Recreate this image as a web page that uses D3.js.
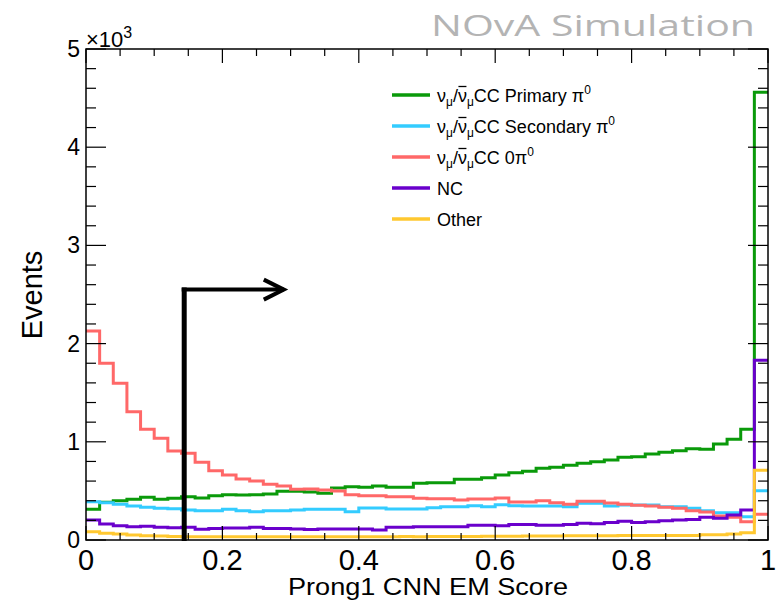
<!DOCTYPE html>
<html>
<head>
<meta charset="utf-8">
<script src="https://cdn.jsdelivr.net/npm/d3@7"></script>
<style>
  body { margin: 0; background: #fff; }
  text { font-family: "Liberation Sans", Arial, sans-serif; }
</style>
</head>
<body>
<div id="chart"></div>
<script>
// 50 bins of width 0.02 on [0, 1]
const binEdges = d3.range(0, 50).map(i => i * 0.02);

const primary = [312, 384, 400, 414, 435, 414, 424, 441, 428, 451, 461, 458, 461, 468, 496, 496, 489, 475, 530, 543,
  537, 550, 537, 537, 577, 584, 584, 618, 618, 635, 662, 686, 700, 730, 740, 760, 781, 798, 815, 842,
  849, 876, 893, 910, 930, 923, 978, 1025, 1127, 4560];
const secondary = [390, 380, 363, 346, 333, 323, 319, 305, 299, 299, 312, 299, 288, 299, 299, 305, 312, 312, 312, 288,
  326, 326, 316, 316, 316, 329, 339, 339, 349, 339, 360, 349, 346, 346, 346, 339, 373, 373, 346, 356,
  356, 356, 339, 339, 323, 299, 278, 278, 238, 502];
const zeroPi0 = [2128, 1799, 1595, 1307, 1127, 1035, 906, 883, 791, 706, 662, 621, 601, 567, 550, 516, 520, 510, 500, 462,
  450, 450, 440, 440, 425, 421, 421, 407, 418, 418, 428, 387, 387, 400, 380, 363, 394, 394, 377, 363,
  353, 346, 333, 323, 299, 285, 244, 231, 187, 261];
const nc = [204, 163, 146, 136, 140, 129, 126, 129, 109, 116, 122, 122, 129, 116, 116, 112, 108, 112, 112, 112,
  112, 102, 129, 129, 136, 136, 136, 136, 149, 149, 146, 159, 159, 149, 149, 159, 170, 166, 177, 190,
  177, 187, 197, 204, 210, 231, 221, 255, 305, 1830];
const other = [85, 68, 61, 51, 44, 41, 36, 34, 33, 34, 33, 32, 33, 32, 32, 33, 32, 33, 34, 33,
  34, 33, 34, 35, 34, 35, 36, 35, 36, 37, 37, 38, 41, 41, 41, 44, 44, 44, 44, 47,
  47, 47, 47, 47, 47, 54, 54, 61, 75, 710];

const seriesColors = ["#0a9a0a", "#33ccff", "#ff6868", "#6a00cc", "#ffc830"];
const seriesData = [primary, secondary, zeroPi0, nc, other];

const xTicks = [0, 0.2, 0.4, 0.6, 0.8, 1];
const yTicks = [0, 1000, 2000, 3000, 4000, 5000];

// cut arrow: position and extent
const cutX = 0.144, cutTop = 2550, cutArrowEnd = 0.29;

const width = 777, height = 600;
const margin = { left: 86, right: 9, top: 49, bottom: 60 };

const svg = d3.select("#chart").append("svg")
  .attr("width", width)
  .attr("height", height);

const x = d3.scaleLinear().domain([0, 1]).range([margin.left, width - margin.right]);
const y = d3.scaleLinear().domain([0, 5000]).range([height - margin.bottom, margin.top]);

const x0 = x(0), x1 = x(1), y0 = y(0), y1 = y(5000);

// histograms
const line = d3.line()
  .x(d => x(d[0]))
  .y(d => y(d[1]))
  .curve(d3.curveStepAfter);

seriesData.forEach((vals, k) => {
  const pts = vals.map((v, i) => [binEdges[i], v]);
  pts.push([1, vals[vals.length - 1]]);
  svg.append("path")
    .datum(pts)
    .attr("fill", "none")
    .attr("stroke", seriesColors[k])
    .attr("stroke-width", 3)
    .attr("d", line);
});

// frame
svg.append("rect")
  .attr("x", x0).attr("y", y1)
  .attr("width", x1 - x0).attr("height", y0 - y1)
  .attr("fill", "none").attr("stroke", "#000").attr("stroke-width", 1.5);

// y ticks: left and right, inside
d3.range(0, 5001, 200).forEach(v => {
  const len = v % 1000 === 0 ? 20 : 10;
  svg.append("line").attr("x1", x0).attr("x2", x0 + len).attr("y1", y(v)).attr("y2", y(v))
    .attr("stroke", "#000").attr("stroke-width", 1.2);
  svg.append("line").attr("x1", x1).attr("x2", x1 - len).attr("y1", y(v)).attr("y2", y(v))
    .attr("stroke", "#000").attr("stroke-width", 1.2);
});

// x ticks: bottom and top, inside
d3.range(0, 21).map(i => i * 0.05).forEach((v, i) => {
  const len = i % 4 === 0 ? 14 : 7;
  svg.append("line").attr("x1", x(v)).attr("x2", x(v)).attr("y1", y0).attr("y2", y0 - len)
    .attr("stroke", "#000").attr("stroke-width", 1.2);
  svg.append("line").attr("x1", x(v)).attr("x2", x(v)).attr("y1", y1).attr("y2", y1 + len)
    .attr("stroke", "#000").attr("stroke-width", 1.2);
});

// tick labels
svg.selectAll(".ylab").data(yTicks).join("text")
  .attr("x", x0 - 6)
  .attr("y", d => y(d) + 8)
  .attr("text-anchor", "end")
  .attr("font-size", 23)
  .text(d => d / 1000);

svg.selectAll(".xlab").data(xTicks).join("text")
  .attr("x", d => x(d))
  .attr("y", 570)
  .attr("text-anchor", "middle")
  .attr("font-size", 29)
  .text(d => d === 0 || d === 1 ? d : d.toFixed(1));

// exponent
const expo = svg.append("text").attr("x", x0).attr("y", 47).attr("font-size", 22);
expo.append("tspan").text("\u00d710");
expo.append("tspan").attr("dy", -9).attr("font-size", 16).text("3");

// axis titles
svg.append("text")
  .attr("transform", "translate(42,295) rotate(-90)")
  .attr("text-anchor", "middle")
  .attr("font-size", 29)
  .text("Events");

svg.append("text")
  .attr("x", 288).attr("y", 595)
  .attr("font-size", 24)
  .attr("textLength", 280)
  .attr("lengthAdjust", "spacingAndGlyphs")
  .text("Prong1 CNN EM Score");

// watermark
svg.append("text")
  .attr("x", 431).attr("y", 36)
  .style("font-family", "'Open Sans', sans-serif")
  .attr("font-size", 30)
  .attr("fill", "#b4b4b4")
  .attr("textLength", 324)
  .attr("lengthAdjust", "spacingAndGlyphs")
  .text("NOvA Simulation");

// legend: each label is a list of [text, kind] pieces
const legendLabels = [
  [["\u03bd"], ["\u03bc", "sub"], ["/"], ["\u03bd", "bar"], ["\u03bc", "sub"], ["CC Primary \u03c0"], ["0", "sup"]],
  [["\u03bd"], ["\u03bc", "sub"], ["/"], ["\u03bd", "bar"], ["\u03bc", "sub"], ["CC Secondary \u03c0"], ["0", "sup"]],
  [["\u03bd"], ["\u03bc", "sub"], ["/"], ["\u03bd", "bar"], ["\u03bc", "sub"], ["CC 0\u03c0"], ["0", "sup"]],
  [["NC"]],
  [["Other"]]
];
const legendY = [95, 126, 157, 188, 219];

legendLabels.forEach((parts, k) => {
  const ly = legendY[k];
  svg.append("line")
    .attr("x1", 392).attr("x2", 430).attr("y1", ly).attr("y2", ly)
    .attr("stroke", seriesColors[k]).attr("stroke-width", 3.5);
  const t = svg.append("text").attr("x", 437).attr("y", ly + 7).attr("font-size", 18);
  let shift = 0;
  parts.forEach(p => {
    const s = t.append("tspan").text(p[0]);
    let target = 0;
    if (p[1] === "sub") { target = 4; s.attr("font-size", 12); }
    if (p[1] === "sup") { target = -8; s.attr("font-size", 12); }
    s.attr("dy", target - shift);
    shift = target;
  });
  // bar over the anti-neutrino
  let idx = 0;
  parts.forEach(p => {
    if (p[1] === "bar") {
      const box = t.node().getExtentOfChar(idx);
      svg.append("line")
        .attr("x1", box.x + 0.5).attr("x2", box.x + box.width - 0.5)
        .attr("y1", ly - 8.5).attr("y2", ly - 8.5)
        .attr("stroke", "#000").attr("stroke-width", 1.3);
    }
    idx += p[0].length;
  });
});

// cut arrow
const arrow = svg.append("g").attr("stroke", "#000").attr("fill", "none");
arrow.append("line")
  .attr("x1", x(cutX)).attr("x2", x(cutX)).attr("y1", y(cutTop) - 2).attr("y2", y0 + 1)
  .attr("stroke-width", 5);
arrow.append("line")
  .attr("x1", x(cutX) - 2.5).attr("x2", x(cutArrowEnd)).attr("y1", y(cutTop)).attr("y2", y(cutTop))
  .attr("stroke-width", 4);
arrow.append("path")
  .attr("d", `M${x(cutArrowEnd) - 20},${y(cutTop) - 10} L${x(cutArrowEnd)},${y(cutTop)} L${x(cutArrowEnd) - 20},${y(cutTop) + 10}`)
  .attr("stroke-width", 4)
  .attr("stroke-linejoin", "miter");
</script>
</body>
</html>
